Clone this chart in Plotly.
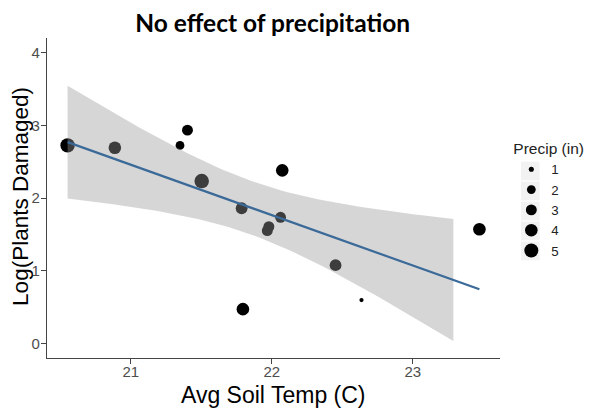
import numpy as np
import plotly.graph_objects as go

# ---- data ----
soil_temp = [20.552, 20.887, 21.349, 21.402, 21.503, 21.786, 22.074,
             22.062, 21.979, 21.968, 22.452, 22.636, 21.795, 23.472]
log_damaged = [2.723, 2.690, 2.723, 2.933, 2.233, 1.859, 2.380,
               1.735, 1.606, 1.551, 1.076, 0.596, 0.472, 1.570]
precip = [5.3, 4.0, 2.0, 3.0, 5.4, 3.5, 4.0,
          3.0, 3.0, 3.0, 3.5, 0.9, 4.0, 4.0]
legend_breaks = [1, 2, 3, 4, 5]
x_ticks = [21, 22, 23]
y_ticks = [0, 1, 2, 3, 4]
y_limits = [0, 4]

TITLE = "No effect of precipitation"
X_TITLE = "Avg Soil Temp (C)"
Y_TITLE = "Log(Plants Damaged)"
LEGEND_TITLE = "Precip (in)"

# ---- size scale (area-like, as ggplot's scale_size) ----
def point_diam(v):
    return 3 + 11 * np.sqrt(np.clip((np.asarray(v, float) - 0.85) / 4.15, 0, None))

# ---- linear fit with 95% confidence band (like geom_smooth(method="lm")) ----
x = np.array(soil_temp)
y = np.array(log_damaged)
n = len(x)
slope, intercept = np.polyfit(x, y, 1)
resid = y - (slope * x + intercept)
s = np.sqrt(np.sum(resid ** 2) / (n - 2))
sxx = np.sum((x - x.mean()) ** 2)
T_975_DF12 = 2.178813  # Student t quantile, df = n - 2 = 12
grid = np.linspace(x.min(), x.max(), 80)
fit = slope * grid + intercept
se = s * np.sqrt(1 / n + (grid - x.mean()) ** 2 / sxx)
lo = fit - T_975_DF12 * se
hi = fit + T_975_DF12 * se
keep = (lo >= y_limits[0]) & (hi <= y_limits[1])  # rows outside ylim dropped
gx, glo, ghi = grid[keep], lo[keep], hi[keep]

# axis ranges with 5% expansion
xr = x.max() - x.min()
x_range = [x.min() - 0.05 * xr, x.max() + 0.05 * xr]
yr = y_limits[1] - y_limits[0]
y_range = [y_limits[0] - 0.05 * yr, y_limits[1] + 0.05 * yr]

fig = go.Figure()
fig.add_trace(go.Scatter(
    x=soil_temp, y=log_damaged, mode="markers", showlegend=False,
    marker=dict(size=point_diam(precip), color="black", opacity=1, line=dict(width=0)),
    hoverinfo="skip"))
fig.add_trace(go.Scatter(
    x=np.concatenate([gx, gx[::-1]]), y=np.concatenate([ghi, glo[::-1]]),
    fill="toself", fillcolor="rgba(153,153,153,0.4)", line=dict(width=0),
    mode="lines", showlegend=False, hoverinfo="skip"))
fig.add_trace(go.Scatter(
    x=grid, y=fit, mode="lines", showlegend=False,
    line=dict(color="#3B6A99", width=2.2), hoverinfo="skip"))
for v in legend_breaks:
    fig.add_trace(go.Scatter(
        x=[None], y=[None], mode="markers", name=str(v),
        marker=dict(size=float(point_diam(v)), color="black", opacity=1, line=dict(width=0))))

axis_common = dict(showgrid=False, zeroline=False, showline=True,
                   linecolor="#444444", linewidth=1.3, ticks="outside",
                   ticklen=5, tickwidth=1.1, tickcolor="#444444",
                   tickfont=dict(family="Liberation Sans, Arial", size=15, color="#4D4D4D"))

# page has an 8px body margin, so the figure is 8px smaller than the window
W, H = 592, 402
L, T, B = 39, 30, 52
plot_w = 452.7
plot_h = H - T - B
R = W - L - plot_w

# light grey legend key backgrounds (screen px of the reference -> paper coords)
key_centres = [171, 191, 211, 231, 251]
shapes = []
for yc in key_centres:
    shapes.append(dict(
        type="rect", xref="paper", yref="paper", layer="above",
        x0=(520.7 - 8 - L) / plot_w, x1=(539.3 - 8 - L) / plot_w,
        y0=(T + plot_h - (yc + 9.3 - 8)) / plot_h, y1=(T + plot_h - (yc - 9.3 - 8)) / plot_h,
        fillcolor="#F2F2F2", line=dict(width=0)))

fig.update_layout(
    width=W, height=H,
    margin=dict(l=L, r=R, t=T, b=B, autoexpand=False),
    paper_bgcolor="white", plot_bgcolor="white",
    title=dict(text="<b>" + TITLE + "</b>", x=(272.7 - 8) / W, xanchor="center",
               y=1 - (23 - 8) / H, yanchor="middle",
               font=dict(family="Lato, Open Sans", size=24.5, color="black")),
    xaxis=dict(range=x_range, tickvals=x_ticks, ticktext=[str(t) for t in x_ticks],
               ticklabelstandoff=-5, **axis_common),
    yaxis=dict(range=y_range, tickvals=y_ticks, ticktext=[str(t) for t in y_ticks],
               ticklabelstandoff=-2, **axis_common),
    legend=dict(title=dict(text=LEGEND_TITLE, font=dict(size=15.5, color="#222")),
                font=dict(family="Liberation Sans, Arial", size=13.3, color="#222"),
                x=1.025, xanchor="left", y=0.70, yanchor="top",
                itemsizing="trace", bgcolor="rgba(0,0,0,0)", tracegroupgap=0),
    font=dict(family="Liberation Sans, Arial", color="black"),
    shapes=shapes,
    annotations=[
        dict(text=X_TITLE, xref="paper", yref="paper", x=0.5, y=-0.069, xanchor="center",
             yanchor="top", showarrow=False,
             font=dict(family="Liberation Sans, Arial", size=23, color="black")),
        dict(text=Y_TITLE, xref="paper", yref="paper", x=0, xshift=-26.5, y=0.505,
             xanchor="center", yanchor="middle", textangle=-90, showarrow=False,
             font=dict(family="Liberation Sans, Arial", size=22.5, color="black")),
    ],
)
fig.write_html("out.html")
